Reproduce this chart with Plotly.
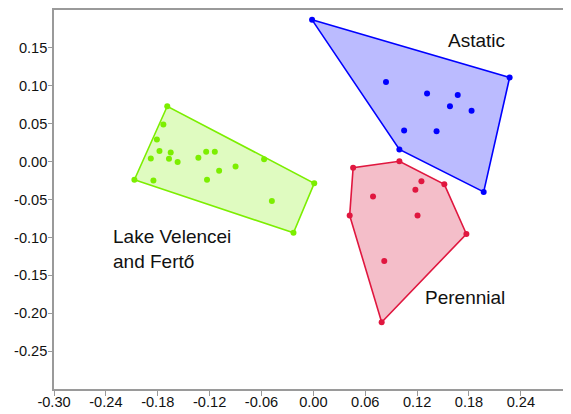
import plotly.graph_objects as go

# ---------------- data ----------------
lake_x = [-0.169, -0.1735, -0.181, -0.178, -0.165, -0.188, -0.167, -0.157,
          -0.133, -0.124, -0.114, -0.109, -0.090, -0.057, -0.123, -0.185,
          -0.207, 0.001, -0.048, -0.023]
lake_y = [0.073, 0.049, 0.029, 0.014, 0.012, 0.004, 0.0036, -0.0004,
          0.005, 0.013, 0.013, -0.012, -0.0066, 0.003, -0.024, -0.025,
          -0.024, -0.0286, -0.052, -0.094]

astatic_x = [-0.0015, 0.227, 0.084, 0.1315, 0.167, 0.158, 0.183, 0.105,
             0.1425, 0.0995, 0.197]
astatic_y = [0.187, 0.111, 0.105, 0.090, 0.088, 0.073, 0.067, 0.041,
             0.040, 0.016, -0.040]

perennial_x = [0.046, 0.0995, 0.1515, 0.125, 0.118, 0.069, 0.042, 0.1205,
               0.177, 0.082, 0.079]
perennial_y = [-0.008, 0.0004, -0.030, -0.026, -0.037, -0.046, -0.071,
               -0.071, -0.0955, -0.131, -0.212]

x_tickvals = [-0.30, -0.24, -0.18, -0.12, -0.06, 0.00, 0.06, 0.12, 0.18, 0.24]
x_ticktext = ["-0.30", "-0.24", "-0.18", "-0.12", "-0.06", "0.00", "0.06",
              "0.12", "0.18", "0.24"]
y_tickvals = [0.15, 0.10, 0.05, 0.00, -0.05, -0.10, -0.15, -0.20, -0.25]
y_ticktext = ["0.15", "0.10", "0.05", "0.00", "-0.05", "-0.10", "-0.15",
              "-0.20", "-0.25"]


def convex_hull(xs, ys):
    pts = sorted(set(zip(xs, ys)))

    def cross(o, a, b):
        return (a[0] - o[0]) * (b[1] - o[1]) - (a[1] - o[1]) * (b[0] - o[0])

    lower = []
    for p in pts:
        while len(lower) >= 2 and cross(lower[-2], lower[-1], p) <= 0:
            lower.pop()
        lower.append(p)
    upper = []
    for p in reversed(pts):
        while len(upper) >= 2 and cross(upper[-2], upper[-1], p) <= 0:
            upper.pop()
        upper.append(p)
    hull = lower[:-1] + upper[:-1]
    hull.append(hull[0])
    return [p[0] for p in hull], [p[1] for p in hull]


groups = [
    (lake_x, lake_y, "#7CEE00", "rgba(170,245,90,0.38)"),
    (astatic_x, astatic_y, "#0000FF", "rgba(120,120,255,0.50)"),
    (perennial_x, perennial_y, "#E0173F", "rgba(230,110,135,0.45)"),
]

fig = go.Figure()
for gx, gy, line_col, fill_col in groups:
    hx, hy = convex_hull(gx, gy)
    fig.add_trace(go.Scatter(x=hx, y=hy, mode="lines", fill="toself",
                             fillcolor=fill_col,
                             line=dict(color=line_col, width=1.6),
                             hoverinfo="skip", showlegend=False))
    fig.add_trace(go.Scatter(x=gx, y=gy, mode="markers",
                             marker=dict(color=line_col, size=6),
                             showlegend=False))

label_font = dict(family="Arial, Liberation Sans, sans-serif", size=19,
                  color="#111111")
fig.add_annotation(x=0.1885, y=0.160, text="Astatic", showarrow=False,
                   font=label_font, xanchor="center", yanchor="middle")
fig.add_annotation(x=0.175, y=-0.179, text="Perennial", showarrow=False,
                   font=label_font, xanchor="center", yanchor="middle")
fig.add_annotation(x=-0.2345, y=-0.1155, text="Lake Velencei<br>and Fertő",
                   showarrow=False, font=label_font, xanchor="left",
                   yanchor="middle", align="left")

tick_font = dict(family="Arial, Liberation Sans, sans-serif", size=14.6,
                 color="#111111")
# the page body adds an 8px margin, so the figure is 8px smaller on each axis
fig.update_layout(
    width=563, height=406,
    margin=dict(l=46, r=0, t=2, b=25),
    paper_bgcolor="white", plot_bgcolor="white",
    xaxis=dict(range=[-0.30, 0.298], tickvals=x_tickvals, ticktext=x_ticktext,
               showgrid=False, zeroline=False, showline=True,
               linecolor="#9a9a9a", linewidth=1.5, mirror=True,
               ticks="outside", ticklen=5, tickcolor="#9a9a9a",
               tickfont=tick_font, automargin=False, ticklabelstandoff=-6),
    yaxis=dict(range=[-0.30, 0.20], tickvals=y_tickvals, ticktext=y_ticktext,
               showgrid=False, zeroline=False, showline=True,
               linecolor="#9a9a9a", linewidth=1.5,
               ticks="outside", ticklen=4, tickcolor="#9a9a9a",
               tickfont=tick_font, automargin=False, ticklabelstandoff=-2),
)

fig.write_html("out.html")
